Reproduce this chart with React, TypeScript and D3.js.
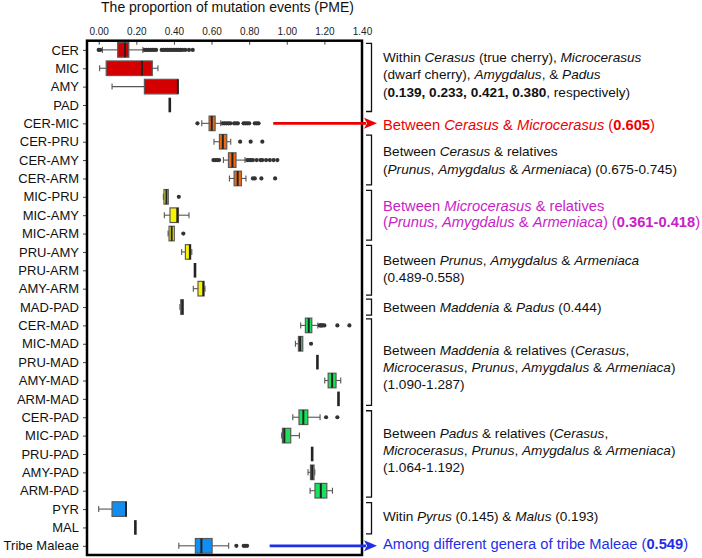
import React, { useEffect, useRef } from 'react'
import * as d3 from 'd3'

// rows of the box plot, top to bottom
const categories = [
  'CER', 'MIC', 'AMY', 'PAD',
  'CER-MIC', 'CER-PRU', 'CER-AMY', 'CER-ARM',
  'MIC-PRU', 'MIC-AMY', 'MIC-ARM', 'PRU-AMY', 'PRU-ARM', 'AMY-ARM',
  'MAD-PAD',
  'CER-MAD', 'MIC-MAD', 'PRU-MAD', 'AMY-MAD', 'ARM-MAD',
  'CER-PAD', 'MIC-PAD', 'PRU-PAD', 'AMY-PAD', 'ARM-PAD',
  'PYR', 'MAL', 'Tribe Maleae',
]

const whiskerLow = [
  0.02, 0.005, 0.071, 0.378,
  0.548, 0.613, 0.663, 0.695,
  0.344, 0.349, 0.369, 0.441, 0.512, 0.503,
  0.432,
  1.074, 1.046, 1.163, 1.202, 1.275,
  1.032, 0.973, 1.135, 1.113, 1.124,
  0.0, 0.195, 0.426,
]
const q1 = [
  0.101, 0.04, 0.243, 0.378,
  0.587, 0.642, 0.69, 0.72,
  0.347, 0.379, 0.374, 0.461, 0.512, 0.528,
  0.436,
  1.099, 1.062, 1.163, 1.22, 1.275,
  1.065, 0.977, 1.135, 1.126, 1.15,
  0.071, 0.195, 0.514,
]
const medians = [
  0.14, 0.23, 0.421, 0.378,
  0.601, 0.66, 0.711, 0.739,
  0.36, 0.418, 0.388, 0.485, 0.512, 0.556,
  0.444,
  1.117, 1.071, 1.163, 1.241, 1.275,
  1.088, 0.987, 1.135, 1.135, 1.181,
  0.145, 0.195, 0.546,
]
const q3 = [
  0.16, 0.285, 0.421, 0.378,
  0.619, 0.681, 0.73, 0.759,
  0.37, 0.424, 0.402, 0.489, 0.512, 0.56,
  0.45,
  1.133, 1.085, 1.163, 1.262, 1.275,
  1.112, 1.021, 1.135, 1.145, 1.213,
  0.147, 0.195, 0.603,
]
const whiskerHigh = [
  0.235, 0.315, 0.421, 0.378,
  0.649, 0.702, 0.778, 0.783,
  0.37, 0.48, 0.402, 0.495, 0.512, 0.565,
  0.45,
  1.165, 1.085, 1.163, 1.287, 1.275,
  1.177, 1.067, 1.135, 1.149, 1.243,
  0.147, 0.195, 0.691,
]
const outliers: number[][] = [
  [0.0, 0.008, 0.245, 0.255, 0.265, 0.275, 0.285, 0.295, 0.305, 0.335, 0.345, 0.355, 0.365, 0.375, 0.385,
    0.395, 0.405, 0.415, 0.425, 0.435, 0.445, 0.46, 0.48, 0.5],
  [], [], [],
  [0.525, 0.66, 0.67, 0.68, 0.69, 0.7, 0.72, 0.73, 0.74, 0.77, 0.78, 0.79, 0.8, 0.83, 0.84, 0.85],
  [0.752, 0.808, 0.87],
  [0.61, 0.62, 0.63, 0.64, 0.79, 0.8, 0.81, 0.82, 0.84, 0.86, 0.87, 0.89, 0.91, 0.93, 0.95],
  [0.82, 0.83, 0.865, 0.938],
  [0.426], [], [0.45], [], [], [],
  [],
  [1.175, 1.18, 1.185, 1.19, 1.2, 1.269, 1.333],
  [1.129], [], [], [],
  [1.209, 1.269], [], [], [], [],
  [], [], [0.732, 0.771, 0.78, 0.789],
]
const rowGroup = [
  'red', 'red', 'red', 'red',
  'orange', 'orange', 'orange', 'orange',
  'yellow', 'yellow', 'yellow', 'yellow', 'yellow', 'yellow',
  'yellow',
  'green', 'green', 'green', 'green', 'green',
  'green', 'green', 'green', 'green', 'green',
  'blue', 'blue', 'blue',
]
const groupColors: Record<string, string> = {
  red: '#d40000',
  orange: '#f4690f',
  yellow: '#f8f400',
  green: '#17e35a',
  blue: '#128ef2',
}
const tickValues = [0, 0.2, 0.4, 0.6, 0.8, 1.0, 1.2, 1.4]

type Seg = [string, 'n' | 'i' | 'b']
type Note = { from: string; to: string; dy: number; color: string; lines: Seg[][]; arrowFrom?: number }

const BLACK = '#111'

const notes: Note[] = [
  {
    from: 'CER', to: 'PAD', dy: -3, color: BLACK,
    lines: [
      [['Within ', 'n'], ['Cerasus', 'i'], [' (true cherry), ', 'n'], ['Microcerasus', 'i']],
      [['(dwarf cherry), ', 'n'], ['Amygdalus', 'i'], [', & ', 'n'], ['Padus', 'i']],
      [['(', 'n'], ['0.139, 0.233, 0.421, 0.380', 'b'], [', respectively)', 'n']],
    ],
  },
  {
    from: 'CER-MIC', to: 'CER-MIC', dy: 1, color: '#ee0000', arrowFrom: 0.928,
    lines: [[['Between ', 'n'], ['Cerasus', 'i'], [' & ', 'n'], ['Microcerasus', 'i'], [' (', 'n'], ['0.605', 'b'], [')', 'n']]],
  },
  {
    from: 'CER-PRU', to: 'CER-ARM', dy: 0, color: BLACK,
    lines: [
      [['Between ', 'n'], ['Cerasus', 'i'], [' & relatives', 'n']],
      [['(', 'n'], ['Prunus', 'i'], [', ', 'n'], ['Amygdalus', 'i'], [' & ', 'n'], ['Armeniaca', 'i'], [') (0.675-0.745)', 'n']],
    ],
  },
  {
    from: 'MIC-PRU', to: 'MIC-ARM', dy: -1.5, color: '#c81ec8',
    lines: [
      [['Between ', 'n'], ['Microcerasus', 'i'], [' & relatives', 'n']],
      [['(', 'n'], ['Prunus, Amygdalus', 'i'], [' & ', 'n'], ['Armeniaca', 'i'], [') (', 'n'], ['0.361-0.418', 'b'], [')', 'n']],
    ],
  },
  {
    from: 'PRU-AMY', to: 'AMY-ARM', dy: -2, color: BLACK,
    lines: [
      [['Between ', 'n'], ['Prunus', 'i'], [', ', 'n'], ['Amygdalus', 'i'], [' & ', 'n'], ['Armeniaca', 'i']],
      [['(0.489-0.558)', 'n']],
    ],
  },
  {
    from: 'MAD-PAD', to: 'MAD-PAD', dy: 0, color: BLACK,
    lines: [[['Between ', 'n'], ['Maddenia', 'i'], [' & ', 'n'], ['Padus', 'i'], [' (0.444)', 'n']]],
  },
  {
    from: 'CER-MAD', to: 'ARM-MAD', dy: 5, color: BLACK,
    lines: [
      [['Between ', 'n'], ['Maddenia', 'i'], [' & relatives (', 'n'], ['Cerasus', 'i'], [',', 'n']],
      [['Microcerasus', 'i'], [', ', 'n'], ['Prunus', 'i'], [', ', 'n'], ['Amygdalus', 'i'], [' & ', 'n'], ['Armeniaca', 'i'], [')', 'n']],
      [['(1.090-1.287)', 'n']],
    ],
  },
  {
    from: 'CER-PAD', to: 'ARM-PAD', dy: -4, color: BLACK,
    lines: [
      [['Between ', 'n'], ['Padus', 'i'], [' & relatives (', 'n'], ['Cerasus', 'i'], [',', 'n']],
      [['Microcerasus', 'i'], [', ', 'n'], ['Prunus', 'i'], [', ', 'n'], ['Amygdalus', 'i'], [' & ', 'n'], ['Armeniaca', 'i'], [')', 'n']],
      [['(1.064-1.192)', 'n']],
    ],
  },
  {
    from: 'PYR', to: 'MAL', dy: -2, color: BLACK,
    lines: [[['Witin ', 'n'], ['Pyrus', 'i'], [' (0.145) & ', 'n'], ['Malus', 'i'], [' (0.193)', 'n']]],
  },
  {
    from: 'Tribe Maleae', to: 'Tribe Maleae', dy: -2, color: '#1f2fe6', arrowFrom: 0.909,
    lines: [[['Among different genera of tribe Maleae (', 'n'], ['0.549', 'b'], [')', 'n']]],
  },
]

const FONT = '"Liberation Sans", Arial, Helvetica, sans-serif'
const W = 702
const H = 558
const frame = { left: 87, right: 362, top: 40.7, bottom: 555 }
const BOX_H = 14.6

export default function App() {
  const topAxisRef = useRef<SVGGElement>(null)
  const leftAxisRef = useRef<SVGGElement>(null)

  const x = d3.scaleLinear().domain([0, 1.4]).range([98.7, frame.right])
  const y = d3.scalePoint<string>().domain(categories).range([frame.top, frame.bottom]).padding(0.5)

  useEffect(() => {
    if (!topAxisRef.current || !leftAxisRef.current) return
    const top = d3.select(topAxisRef.current)
    top.selectAll('*').remove()
    top.call(d3.axisTop(x).tickValues(tickValues).tickFormat(d3.format('.2f')).tickSize(-4).tickPadding(6))
    top.select('.domain').remove()
    top.selectAll('.tick line').attr('stroke', '#444').attr('stroke-width', 1)
    top.selectAll('.tick text').attr('font-family', FONT).attr('font-size', 10).attr('fill', '#222')

    const left = d3.select(leftAxisRef.current)
    left.selectAll('*').remove()
    left.call(d3.axisLeft(y).tickSize(4).tickPadding(4))
    left.select('.domain').remove()
    left.selectAll('.tick line').attr('stroke', '#444').attr('stroke-width', 1)
    left.selectAll('.tick text').attr('font-family', FONT).attr('font-size', 13).attr('fill', '#111')
  }, [])

  const textX = 383
  const bracketX = 371.5

  return (
    <svg width={W} height={H} style={{ position: 'absolute', left: 0, top: 0 }} fontFamily={FONT}>
      <rect width={W} height={H} fill="#fff" />
      <text x={227.5} y={12} textAnchor="middle" fontSize={14} fill="#111">
        The proportion of mutation events (PME)
      </text>

      <g ref={topAxisRef} transform={`translate(0,${frame.top})`} />
      <g ref={leftAxisRef} transform={`translate(${frame.left},0)`} />

      {/* boxes */}
      {categories.map((cat, i) => {
        const cy = y(cat) as number
        const fill = groupColors[rowGroup[i]]
        const single = q1[i] === q3[i]
        return (
          <g key={cat}>
            {whiskerLow[i] < q1[i] && (
              <g stroke="#555" strokeWidth={1.1}>
                <line x1={x(whiskerLow[i])} x2={x(q1[i])} y1={cy} y2={cy} />
                <line x1={x(whiskerLow[i])} x2={x(whiskerLow[i])} y1={cy - 3} y2={cy + 3} />
              </g>
            )}
            {whiskerHigh[i] > q3[i] && (
              <g stroke="#555" strokeWidth={1.1}>
                <line x1={x(q3[i])} x2={x(whiskerHigh[i])} y1={cy} y2={cy} />
                <line x1={x(whiskerHigh[i])} x2={x(whiskerHigh[i])} y1={cy - 3} y2={cy + 3} />
              </g>
            )}
            {!single && (
              <rect
                x={x(q1[i])}
                y={cy - BOX_H / 2}
                width={x(q3[i]) - x(q1[i])}
                height={BOX_H}
                fill={fill}
                stroke="#5a5a5a"
                strokeWidth={1.2}
              />
            )}
            <line
              x1={x(medians[i])}
              x2={x(medians[i])}
              y1={cy - BOX_H / 2}
              y2={cy + BOX_H / 2}
              stroke="#222"
              strokeWidth={single ? 2.6 : 2}
            />
            {outliers[i].map((v, j) => (
              <circle key={j} cx={x(v)} cy={cy} r={2.1} fill="#333" />
            ))}
          </g>
        )
      })}

      <rect
        x={frame.left}
        y={frame.top}
        width={frame.right - frame.left}
        height={frame.bottom - frame.top}
        fill="none"
        stroke="#000"
        strokeWidth={2.5}
      />

      {/* annotations */}
      {notes.map((n, k) => {
        const y0 = y(n.from) as number
        const y1 = y(n.to) as number
        const mid = (y0 + y1) / 2 + n.dy
        const ext = n.from === n.to ? 8 : 6.5
        const coloured = n.color !== BLACK
        const fs = coloured ? 14.7 : 13.6
        const lh = coloured ? 16.5 : 17.3
        return (
          <g key={k}>
            {n.arrowFrom === undefined ? (
              <path
                d={`M${bracketX - 5.5},${y0 - ext}H${bracketX}V${y1 + ext}H${bracketX - 5.5}`}
                fill="none"
                stroke="#111"
                strokeWidth={1.3}
              />
            ) : (
              <g>
                <line x1={x(n.arrowFrom)} x2={frame.right + 4} y1={y0} y2={y0} stroke={n.color} strokeWidth={2.8} />
                <path
                  d={`M${frame.right + 15},${y0}L${frame.right + 2},${y0 - 5.5}L${frame.right + 5},${y0}L${frame.right + 2},${y0 + 5.5}Z`}
                  fill={n.color}
                />
              </g>
            )}
            {n.lines.map((line, li) => (
              <text
                key={li}
                x={textX}
                y={mid + (li - (n.lines.length - 1) / 2) * lh + fs * 0.36}
                fontSize={fs}
                fill={n.color}
              >
                {line.map(([t, s], si) => (
                  <tspan
                    key={si}
                    fontStyle={s === 'i' ? 'italic' : 'normal'}
                    fontWeight={s === 'b' ? 'bold' : 'normal'}
                  >
                    {t}
                  </tspan>
                ))}
              </text>
            ))}
          </g>
        )
      })}
    </svg>
  )
}
